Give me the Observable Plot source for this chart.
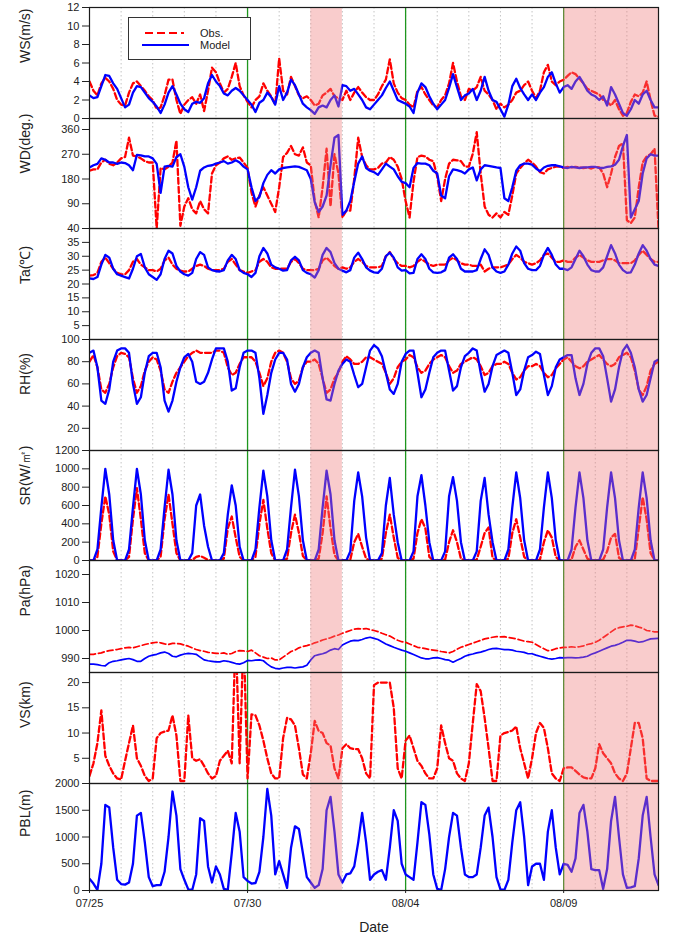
<!DOCTYPE html>
<html><head><meta charset="utf-8">
<script src="https://cdn.jsdelivr.net/npm/d3@7"></script>
<script src="https://cdn.jsdelivr.net/npm/@observablehq/plot@0.6"></script>
<style>
body{margin:0;background:#fff;font-family:Arial,"Liberation Sans",sans-serif;}
#chart{position:relative;width:674px;height:937px;overflow:hidden;}
#chart svg.panel{position:absolute;left:0;}
#legend{position:absolute;left:128px;top:17px;width:121px;height:41px;border:1px solid #333;background:#fff;}
</style></head><body><div id="chart"></div>
<script>
// ---- time axis (3-hourly samples from 07/25 00:00) ----
const startTime = "2015-07-25T00:00:00Z";
const endTime = "2015-08-12T00:00:00Z";
const stepHours = 3;
const xTickDates = ["2015-07-25", "2015-07-30", "2015-08-04", "2015-08-09"];
const xTickLabels = ["07/25", "07/30", "08/04", "08/09"];
const greenLineDates = ["2015-07-30", "2015-08-04", "2015-08-09"];
const shadeStart = ["2015-08-01", "2015-08-09"];
const shadeEnd = ["2015-08-02", "2015-08-12"];
const legendLabels = ["Obs.", "Model"];
const xTitle = "Date";

// ---- panel titles / y ticks ----
const titles = ["WS(m/s)", "WD(deg.)", "Ta(\u2103)", "RH(%)", "SR(W/\u33A1)", "Pa(hPa)", "VS(km)", "PBL(m)"];
const wsTicks = [0, 2, 4, 6, 8, 10, 12];
const wdTicks = [90, 180, 270, 360];
const taTicks = [5, 10, 15, 20, 25, 30, 35, 40];
const rhTicks = [20, 40, 60, 80, 100];
const srTicks = [0, 200, 400, 600, 800, 1000, 1200];
const paTicks = [990, 1000, 1010, 1020];
const vsTicks = [5, 10, 15, 20];
const pblTicks = [0, 500, 1000, 1500, 2000];

// ---- series (8 values per day: 00,03,...,21 h; last value = 08/12 00h) ----
const wsObs = [
4.0,3.0,2.5,3.8,4.4,4.0,3.2,2.0, 1.5,1.4,2.8,3.8,4.0,3.5,3.0,2.4, 2.0,1.0,1.2,2.5,4.2,4.2,2.0,0.5,
1.5,2.0,2.3,1.6,2.6,0.8,3.0,5.5, 5.0,3.8,2.8,3.2,4.5,6.0,3.5,2.5, 1.8,1.2,2.0,2.4,3.8,3.0,2.4,1.5,
6.5,3.0,2.6,4.5,3.5,2.5,2.2,2.4, 2.0,1.4,1.6,2.5,2.8,3.2,2.4,2.2, 2.0,3.0,2.0,2.8,3.4,2.8,2.3,2.0,
2.0,2.6,3.5,4.2,6.4,3.8,2.8,2.2, 2.0,1.5,1.2,3.0,3.4,2.6,2.0,1.4, 1.2,2.0,2.5,3.8,6.0,4.0,2.4,2.0,
3.2,3.0,3.4,4.5,3.0,2.6,2.0,1.0, 1.6,1.2,1.5,2.0,2.8,3.0,3.6,4.0, 3.0,2.2,3.0,5.0,5.8,4.0,3.6,4.0,
4.2,4.6,5.0,4.8,4.3,3.8,3.2,3.0, 2.8,2.6,2.0,1.8,1.4,2.0,1.0,0.3, 0.6,1.8,2.6,2.4,2.8,4.0,2.0,0.3, 0.2];
const wsMod = [
2.5,2.2,2.3,3.5,4.7,4.6,3.8,3.2, 2.2,1.2,1.5,2.8,3.5,3.4,2.8,2.2, 1.8,1.3,0.6,1.5,2.8,3.5,2.6,1.6,
1.0,0.7,1.6,1.8,1.7,2.2,3.8,4.7, 4.0,3.5,2.7,2.5,3.0,3.3,3.0,2.5, 2.0,1.5,0.7,1.7,2.0,2.8,2.3,1.5,
3.5,2.0,2.8,4.2,3.6,2.6,1.6,1.2, 0.9,0.5,1.2,1.4,1.2,2.0,2.5,1.3, 3.6,3.5,3.0,3.2,2.6,2.0,1.2,1.0,
1.5,2.0,2.5,3.3,4.0,3.0,2.0,1.8, 1.6,1.3,0.6,2.8,3.8,3.4,2.4,1.6, 1.0,1.5,2.0,3.3,4.8,3.4,2.0,2.5,
2.7,3.2,2.0,3.0,4.5,3.0,2.0,1.8, 1.0,0.2,1.5,3.5,4.3,3.3,2.6,2.0, 2.6,2.0,2.8,3.4,4.5,5.0,3.8,2.8,
3.4,3.6,3.2,4.0,4.5,3.8,3.0,2.6, 2.4,2.0,2.4,1.4,3.4,2.6,1.6,0.6, 0.3,1.0,2.0,1.6,2.6,3.0,2.0,1.2, 1.2];
const wdObs = [
210,215,215,240,250,235,230,240, 255,260,330,265,262,255,245,240, 240,0,220,215,225,240,320,10,
80,110,70,55,100,70,55,200, 230,240,255,262,250,255,258,240, 220,130,80,120,150,120,90,60,
150,260,275,300,270,265,295,240, 230,100,40,150,290,80,270,200, 40,65,65,180,330,260,230,215,
215,220,236,240,260,250,225,180, 100,40,170,260,265,262,250,245, 190,100,180,236,250,248,245,225,
225,272,350,200,80,50,40,55, 40,60,50,120,200,220,236,250, 240,225,205,200,215,220,225,225,
220,224,222,224,222,220,222,218, 224,222,200,150,200,260,300,310, 30,20,40,150,240,262,270,290, 0];
const wdMod = [
222,230,235,255,250,240,240,235, 240,238,230,212,268,266,262,262, 255,235,130,225,228,225,260,270,
224,150,105,150,210,222,228,230, 236,240,245,236,240,248,240,225, 215,150,100,115,165,195,212,200,
215,220,222,224,226,224,218,212, 180,95,60,80,120,230,330,340, 50,65,100,170,236,262,220,210,
205,195,215,236,225,215,190,170, 165,150,220,238,236,236,230,210, 200,120,110,190,215,212,208,200,
215,222,175,215,230,228,225,222, 220,110,100,150,210,230,236,236, 232,218,208,222,228,230,230,226,
222,220,224,222,220,222,222,224, 224,220,220,224,226,232,250,300, 340,40,70,100,200,255,270,265, 265];
const taObs = [
23.0,23.2,24.0,28.0,29.5,27.5,25.5,24.0, 23.5,23.5,25.0,28.0,29.0,27.0,26.0,25.0, 25.0,24.5,25.5,28.5,29.5,27.0,25.5,24.8,
24.5,24.5,25.5,26.5,27.0,26.5,25.5,25.0, 25.0,25.0,25.5,28.0,29.0,27.0,25.0,24.5, 24.0,24.5,25.0,28.0,29.0,28.0,26.0,25.5,
25.5,25.5,25.5,28.0,29.0,27.5,25.5,25.0, 25.0,25.0,25.5,28.5,29.5,28.0,26.5,25.5, 26.0,25.5,26.0,28.0,29.0,28.0,26.5,26.0,
26.0,26.0,26.5,30.0,31.5,29.0,27.5,26.5, 26.5,26.0,26.5,28.0,29.0,28.0,27.0,26.5, 27.0,27.0,27.0,28.5,29.5,28.5,27.5,27.0,
27.0,26.5,26.5,27.0,24.5,25.5,26.0,26.0, 26.0,26.5,27.0,29.0,30.5,29.5,28.0,27.5, 27.0,27.5,28.5,30.5,31.0,29.5,28.0,28.0,
28.5,28.0,28.0,29.5,30.5,29.5,28.5,28.0, 28.0,28.0,28.5,29.0,29.0,28.5,27.5,27.5, 27.5,27.5,28.5,30.5,32.0,30.5,29.0,28.0, 28.0];
const taMod = [
22.0,21.8,22.5,27.0,30.5,29.5,25.5,23.5, 23.0,22.5,22.0,25.5,30.0,30.8,26.0,23.5, 22.5,21.5,23.5,29.0,32.0,31.0,26.5,24.5,
23.5,23.0,24.0,29.0,31.5,30.5,26.0,25.0, 24.6,24.5,25.0,28.5,30.5,29.0,25.0,24.0, 23.5,22.5,24.0,30.0,33.0,31.0,27.0,26.0,
25.5,24.8,25.0,28.5,29.8,28.5,25.0,24.0, 23.5,22.3,25.0,30.5,33.0,31.5,27.5,25.5, 24.8,24.2,25.0,29.5,31.3,29.0,26.0,24.8,
24.2,24.0,25.5,30.0,31.3,29.5,26.0,24.8, 25.0,23.8,24.0,29.0,30.7,29.0,25.5,24.2, 24.0,24.2,25.0,29.5,30.7,29.0,25.5,24.5,
24.5,24.5,25.0,29.0,32.5,30.5,26.0,24.5, 24.0,24.5,27.0,31.0,33.5,32.0,27.5,25.5, 25.0,25.0,26.5,30.5,33.0,30.5,27.0,25.5,
25.5,25.0,26.0,29.0,32.0,30.0,27.0,25.0, 24.5,24.5,26.0,30.0,34.0,31.0,27.0,25.0, 24.0,24.2,27.0,31.0,34.0,32.0,29.0,27.0, 26.5];
const rhObs = [
80,86,75,55,52,60,75,85, 88,87,84,65,52,58,72,80, 84,82,72,55,52,62,70,75,
80,85,88,90,88,88,88,88, 90,90,88,75,68,70,78,84, 84,84,80,70,58,65,80,88,
90,88,80,65,60,63,75,80, 80,82,78,65,52,55,65,70, 80,85,82,78,78,80,84,84,
82,80,78,70,60,65,75,80, 82,86,84,75,70,72,78,82, 84,86,84,76,70,72,78,80,
82,84,82,76,68,70,76,78, 78,80,78,70,64,66,72,76, 76,78,76,70,66,68,74,78,
82,84,80,76,74,76,80,82, 84,86,82,78,76,78,84,86, 88,84,72,55,50,58,72,78, 80];
const rhMod = [
88,90,75,45,42,55,80,90, 92,92,88,60,42,48,70,85, 88,88,75,45,35,45,62,75,
84,87,80,62,60,62,70,82, 92,92,92,80,54,56,75,88, 90,90,88,65,33,50,70,82,
88,88,82,60,53,60,75,84, 88,90,88,65,46,45,60,72, 78,82,80,68,57,60,75,90,
95,92,85,70,55,51,60,80, 87,90,90,70,48,55,70,84, 88,90,90,72,54,58,75,85,
88,92,90,70,53,60,76,86, 88,90,88,70,50,55,72,84, 86,89,87,68,50,58,75,82,
84,86,86,65,50,60,78,88, 92,92,85,65,44,55,75,90, 95,88,75,55,44,50,65,80, 82];
const srObs = [
0,0,40,400,700,500,100,0, 0,0,40,450,790,450,80,0, 0,0,40,450,720,400,80,0,
0,0,5,40,50,30,5,0, 0,0,20,350,480,250,40,0, 0,0,40,400,660,350,80,0,
0,0,20,300,500,300,50,0, 0,0,20,300,700,350,60,0, 0,0,10,200,290,150,20,0,
0,0,20,300,500,250,30,0, 0,0,20,300,450,350,40,0, 0,0,10,200,330,200,20,0,
0,0,10,150,300,360,30,0, 0,0,20,300,450,250,40,0, 0,0,10,200,330,250,40,0,
0,0,10,150,220,120,20,0, 0,0,10,100,250,290,30,0, 0,0,20,350,690,450,80,0, 0];
const srMod = [
0,0,120,580,1000,720,220,0, 0,0,120,580,1000,720,220,0, 0,0,120,580,990,720,220,0,
0,0,80,600,720,380,150,0, 0,0,80,500,820,600,150,0, 0,0,120,580,980,700,220,0,
0,0,120,580,990,700,220,0, 0,0,120,580,980,720,220,0, 0,0,100,650,960,700,250,0,
0,0,80,600,900,500,200,0, 0,0,100,700,930,600,200,0, 0,0,100,700,910,650,200,0,
0,0,100,650,900,500,200,0, 0,0,120,580,960,680,220,0, 0,0,120,580,960,680,220,0,
0,0,120,580,960,680,220,0, 0,0,120,580,960,680,220,0, 0,0,120,580,960,680,220,0, 0];
const paObs = [
991.5,991.5,991.8,992.0,992.5,992.8,993.0,993.2, 993.5,993.8,994.0,993.8,994.2,994.6,995.0,995.3,
995.6,995.8,995.6,995.2,995.0,995.4,995.4,995.2, 994.8,994.4,993.8,993.2,992.8,992.6,992.2,992.0,
991.8,991.8,992.0,991.5,991.8,992.5,992.8,992.7, 992.5,993.0,992.0,991.0,990.5,990.0,990.2,989.5,
989.5,990.5,991.5,992.5,993.0,993.8,994.3,994.6, 995.0,995.6,996.0,996.6,997.0,997.4,998.0,998.4,
999.0,999.5,1000.0,1000.5,1000.7,1000.5,1000.7,1000.3, 1000.0,999.6,999.0,998.5,998.0,997.2,996.5,996.0,
995.8,995.2,994.6,994.0,993.8,993.5,993.2,993.0, 992.8,992.5,992.3,992.0,992.5,993.3,994.0,994.5,
995.0,995.5,996.0,996.5,997.0,997.3,997.6,997.8, 997.7,997.8,997.5,997.3,997.0,996.6,996.2,996.0,
995.8,995.0,994.2,993.5,992.8,993.0,993.5,993.8, 994.0,994.0,994.2,994.0,994.2,994.5,995.0,995.3,
995.8,996.5,997.5,998.5,999.5,1000.5,1001.0,1001.3, 1001.5,1001.9,1001.7,1001.2,1000.8,1000.0,999.8,999.5, 999.5];
const paMod = [
988.0,988.0,987.8,987.5,987.4,988.5,989.0,989.2, 989.5,989.8,990.0,989.6,989.0,989.0,990.0,990.8,
991.2,991.5,992.0,992.3,991.8,990.8,990.6,991.2, 991.6,991.8,991.7,991.5,990.5,989.5,989.2,989.0,
988.8,988.8,989.2,989.0,988.6,988.2,988.0,988.5, 989.3,989.2,989.4,989.5,989.2,988.0,987.0,986.5,
986.3,986.6,986.8,986.8,986.6,986.8,987.0,987.6, 989.5,991.0,991.4,991.7,992.2,993.0,993.5,993.2,
994.8,995.5,996.2,996.5,996.4,996.8,997.3,997.6, 997.2,996.8,996.0,995.2,994.6,994.0,993.5,993.0,
992.6,992.0,991.4,990.8,990.2,989.9,989.9,990.2, 990.3,990.0,989.6,989.4,988.7,989.4,990.0,990.8,
991.3,991.6,992.0,992.3,992.7,993.2,993.5,993.6, 993.4,993.2,993.2,993.0,992.6,992.4,992.2,991.7,
991.7,991.2,990.8,990.4,990.0,989.8,990.0,990.3, 990.2,990.3,990.3,990.2,990.3,990.5,990.8,991.5,
992.0,992.6,993.2,993.8,994.4,994.7,995.2,995.8, 996.5,996.5,996.2,995.8,996.0,996.5,997.0,997.1, 997.2];
const vsObs = [
1.5,4.0,8.0,14.5,5.5,3.5,2.0,1.0, 0.8,4.5,8.0,11.5,5.0,3.5,1.5,0.5, 1.0,9.0,10.0,10.3,10.5,13.5,9.5,0.5,
0.5,13.5,5.0,4.5,4.8,3.5,2.0,1.0, 1.5,4.5,5.5,6.5,4.0,30,4.0,30, 1.0,13.7,13.5,11.5,8.5,5.0,2.0,1.0,
1.0,9.0,13.0,12.7,11.5,7.0,1.8,1.0, 6.0,12.4,10.4,10.0,8.0,7.5,3.0,1.0, 7.0,7.8,7.0,6.8,6.8,5.0,2.0,1.0,
19.5,20.0,20.0,20.0,20.0,15.0,3.0,1.0, 8.5,9.5,7.0,4.5,3.5,2.0,1.0,1.0, 3.0,11.5,8.0,5.0,4.5,2.0,1.0,0.5,
4.0,12.0,19.7,18.3,13.0,7.0,0.5,0.5, 9.5,10.0,10.2,10.5,11.3,7.0,4.0,1.0, 5.0,10.0,12.0,11.0,7.0,2.0,1.0,0.5,
3.0,3.2,3.2,2.5,1.8,1.2,1.0,1.0, 3.0,7.8,6.0,5.0,4.0,2.0,1.0,0.5, 2.0,7.0,12.0,12.0,9.0,1.0,0.5,0.5, 0.5];
const pblMod = [
220,130,10,500,1600,1550,800,200, 120,110,150,500,1400,1450,900,250, 80,100,100,350,1000,1850,1400,400,
200,20,10,300,1350,1300,450,150, 450,300,30,10,700,1450,1100,250, 180,130,140,350,1000,1900,1400,300,
550,300,50,800,1200,1150,700,250, 150,50,100,400,1500,1750,1100,300, 150,300,320,450,900,1450,900,200,
300,350,380,200,800,1500,1300,500, 300,250,200,900,1650,1600,1050,300, 30,10,400,1000,1450,1400,800,300,
250,250,300,800,1400,1550,1000,250, 20,10,200,900,1500,1650,1000,100, 450,500,500,200,1100,1500,800,300,
500,480,350,600,1450,1600,1100,400, 380,380,30,400,1300,1750,1000,300, 50,60,80,600,1400,1750,1000,300, 100];

// ---- layout ----
const W = 674, ML = 89, MR = 16, MT = 10;
const panelTops = [7, 118, 228, 339, 450, 560, 672, 783, 890];
const obsColor = "#ff0000", modColor = "#0000ff";

const t0 = new Date(startTime), t1 = new Date(endTime);
const times = wsObs.map((_, i) => new Date(+t0 + i * stepHours * 3600e3));
const dayLines = d3.utcDay.range(t0, t1).slice(1);
const greens = greenLineDates.map(d => new Date(d + "T00:00:00Z"));
const shades = shadeStart.map((s, i) => ({a: new Date(s + "T00:00:00Z"), b: new Date(shadeEnd[i] + "T00:00:00Z")}));
const xTicks = xTickDates.map(d => new Date(d + "T00:00:00Z"));

const panels = [
  {title: titles[0], domain: [0, 12], ticks: wsTicks, obs: wsObs, mod: wsMod},
  {title: titles[1], domain: [0, 400], ticks: wdTicks, obs: wdObs, mod: wdMod},
  {title: titles[2], domain: [0, 40], ticks: taTicks, obs: taObs, mod: taMod},
  {title: titles[3], domain: [0, 100], ticks: rhTicks, obs: rhObs, mod: rhMod},
  {title: titles[4], domain: [0, 1200], ticks: srTicks, obs: srObs, mod: srMod},
  {title: titles[5], domain: [985, 1025], ticks: paTicks, obs: paObs, mod: paMod, thin: true},
  {title: titles[6], domain: [0, 22], ticks: vsTicks, obs: vsObs, mod: null},
  {title: titles[7], domain: [0, 2000], ticks: pblTicks, obs: null, mod: pblMod}
];

const chart = document.getElementById("chart");
panels.forEach((p, k) => {
  const last = k === panels.length - 1;
  const h = panelTops[k + 1] - panelTops[k];
  const MB = last ? 47 : 10;
  const sw = p.thin ? 1.7 : 2.3;
  const marks = [
    Plot.ruleX(dayLines, {stroke: "#c4c4c4", strokeDasharray: "1.5,2.5", strokeWidth: 1}),
    Plot.ruleX(greens, {stroke: "#1e961e", strokeWidth: 1.3})
  ];
  if (p.obs) marks.push(Plot.line(p.obs, {x: (d, i) => times[i], y: d => d, stroke: obsColor, strokeWidth: sw, strokeDasharray: "6,3", clip: true}));
  if (p.mod) marks.push(Plot.line(p.mod, {x: (d, i) => times[i], y: d => d, stroke: modColor, strokeWidth: sw, clip: true}));
  marks.push(
    Plot.rect(shades, {x1: "a", x2: "b", fill: "#f07878", fillOpacity: 0.38}),
    Plot.frame({stroke: "#1a1a1a", strokeWidth: 1.2}),
    Plot.text([p.title], {text: d => d, frameAnchor: "left", dx: -64, rotate: -90, fontSize: 14, fill: "#222"})
  );
  if (last) marks.push(Plot.text([xTitle], {text: d => d, frameAnchor: "bottom", dy: 41, fontSize: 14, fill: "#222"}));
  const svg = Plot.plot({
    width: W, height: h + MT + MB,
    marginLeft: ML, marginRight: MR, marginTop: MT, marginBottom: MB,
    style: {background: "none", overflow: "visible", fontSize: "11px", fontFamily: "Arial, 'Liberation Sans', sans-serif", color: "#222"},
    x: last
      ? {type: "utc", domain: [t0, t1], ticks: xTicks, tickFormat: d => xTickLabels[xTicks.findIndex(t => +t === +d)], tickSize: 3, tickPadding: 6, label: null}
      : {type: "utc", domain: [t0, t1], axis: null},
    y: {domain: p.domain, ticks: p.ticks, tickFormat: d3.format("d"), tickSize: 7, tickPadding: 3, label: null},
    marks
  });
  svg.classList.add("panel");
  svg.style.top = (panelTops[k] - MT) + "px";
  chart.appendChild(svg);
});

// ---- legend ----
const lg = document.createElement("div");
lg.id = "legend";
lg.innerHTML = `<svg width="121" height="41" style="display:block">
  <line x1="16" x2="55" y1="15" y2="15" stroke="${obsColor}" stroke-width="2" stroke-dasharray="8,4"/>
  <line x1="13" x2="60" y1="27" y2="27" stroke="${modColor}" stroke-width="2"/>
  <text x="71" y="19" font-size="11" fill="#222">${legendLabels[0]}</text>
  <text x="71" y="31" font-size="11" fill="#222">${legendLabels[1]}</text>
</svg>`;
chart.appendChild(lg);
</script></body></html>
